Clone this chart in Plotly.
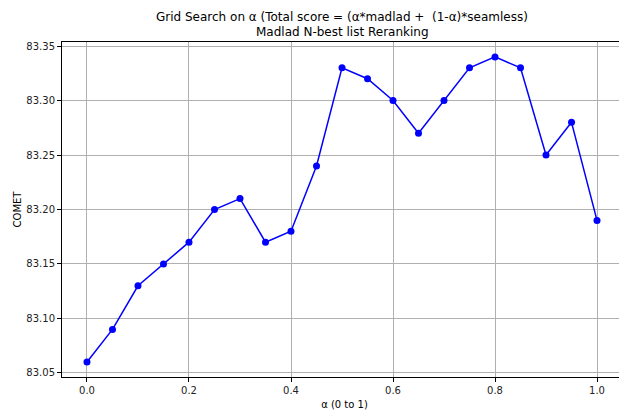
import plotly.graph_objects as go

alpha = [0.0, 0.05, 0.1, 0.15, 0.2, 0.25, 0.3, 0.35, 0.4, 0.45, 0.5,
         0.55, 0.6, 0.65, 0.7, 0.75, 0.8, 0.85, 0.9, 0.95, 1.0]
comet = [83.06, 83.09, 83.13, 83.15, 83.17, 83.20, 83.21, 83.17, 83.18, 83.24, 83.33,
         83.32, 83.30, 83.27, 83.30, 83.33, 83.34, 83.33, 83.25, 83.28, 83.19]
x_ticks = [0.0, 0.2, 0.4, 0.6, 0.8, 1.0]
x_tick_labels = ["0.0", "0.2", "0.4", "0.6", "0.8", "1.0"]
y_ticks = [83.05, 83.10, 83.15, 83.20, 83.25, 83.30, 83.35]
y_tick_labels = ["83.05", "83.10", "83.15", "83.20", "83.25", "83.30", "83.35"]
title_lines = ["Grid Search on α (Total score = (α*madlad +  (1-α)*seamless)",
               "Madlad N-best list Reranking"]

fig = go.Figure()
fig.add_trace(go.Scatter(
    x=alpha, y=comet, mode="lines+markers",
    line=dict(color="#0000ff", width=1.5),
    marker=dict(color="#0000ff", size=7),
))

axis_common = dict(
    showgrid=True, gridcolor="#b0b0b0", gridwidth=0.8,
    showline=True, linecolor="black", linewidth=1,
    ticks="outside", ticklen=4, tickcolor="black",
    tickfont=dict(size=10, color="#222"), zeroline=False,
)

plot_h = 410 - 42 - 33
for i, line in enumerate(title_lines):
    fig.add_annotation(
        text=line, xref="x", yref="paper", x=0.5,
        y=1 + (42 - (17 + 15 * i)) / plot_h, xanchor="center", yanchor="middle",
        showarrow=False, font=dict(size=12, color="black"),
    )

# figure slightly wider than the window: the right spine falls outside the view, as in the reference crop
fig.update_layout(
    width=627, height=410,
    paper_bgcolor="white", plot_bgcolor="white",
    font=dict(family="DejaVu Sans", color="black"),
    margin=dict(l=62, r=0, t=42, b=33),
    showlegend=False,
    xaxis=dict(range=[-0.049, 1.0588], tickvals=x_ticks, ticktext=x_tick_labels, mirror=True,
               title=dict(text="α (0 to 1)", font=dict(size=10), standoff=6), **axis_common),
    yaxis=dict(range=[83.0463, 83.3537], tickvals=y_ticks, ticktext=y_tick_labels, mirror=True,
               title=dict(text="COMET", font=dict(size=10), standoff=2), **axis_common),
)

fig.write_html("out.html", config={"displayModeBar": False},
               post_script="document.body.style.margin='0';document.body.style.overflow='hidden';")
